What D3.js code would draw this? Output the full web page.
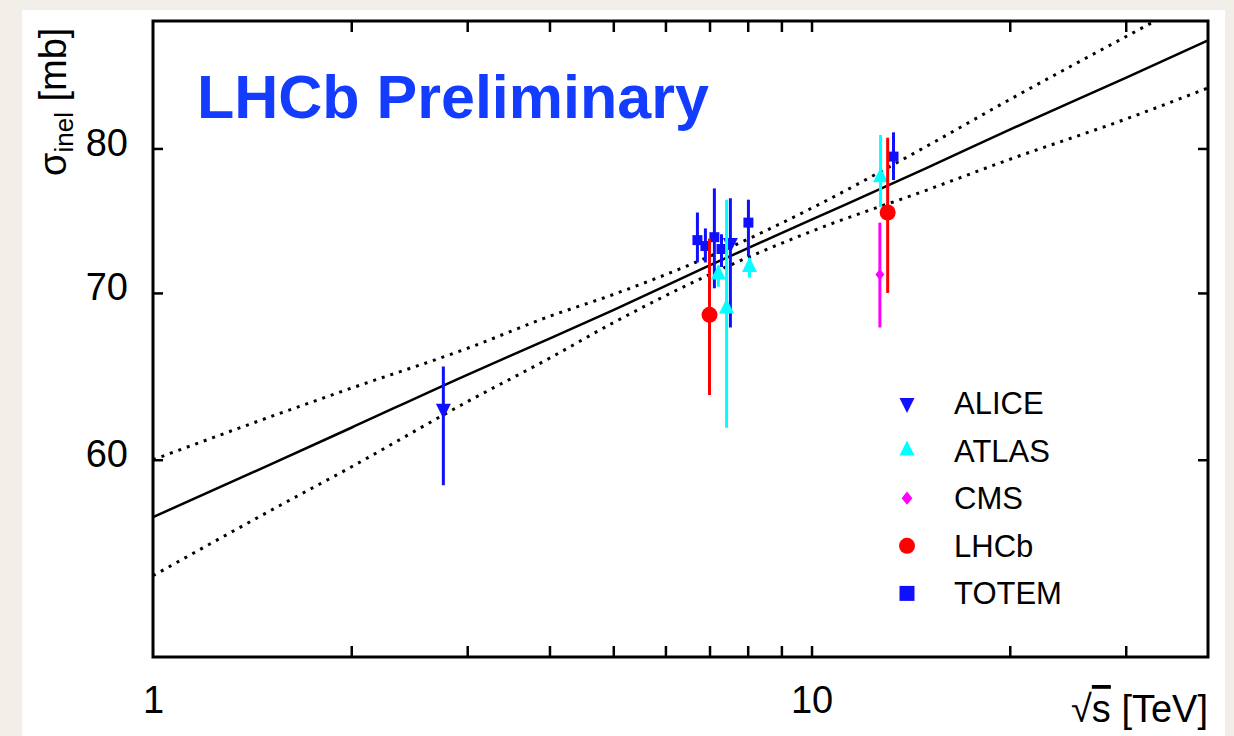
<!DOCTYPE html>
<html>
<head>
<meta charset="utf-8">
<script src="https://cdn.jsdelivr.net/npm/d3@7"></script>
<style>
  body { margin: 0; background: #f2efe9; }
  svg { display: block; }
  text { font-family: "Liberation Sans", Arial, sans-serif; }
</style>
</head>
<body>
<svg id="chart" width="1234" height="736"></svg>
<script>
// fit curve (central value and band)
const fitX     = [1, 1.5, 2, 3, 4, 5, 7, 10, 15, 20, 30, 40]
const fitMid   = [56.9, 59.7, 61.8, 64.9, 67.1, 68.9, 71.8, 74.9, 78.6, 81.4, 85.4, 88.4]
const fitUpper = [60.0, 62.4, 64.1, 66.5, 68.5, 69.9, 72.4, 75.7, 80.2, 83.7, 88.7, 92.4]
const fitLower = [53.9, 57.2, 59.6, 63.3, 65.9, 68.1, 71.2, 74.1, 77.0, 79.2, 82.2, 84.6]

// measurements: sqrt(s) (shifted for display), sigma, error bar low/high
const alice = [
  {x: 2.76, y: 62.9, lo: 58.6, hi: 65.4},
  {x: 7.53, y: 73.3, lo: 67.8, hi: 76.4}
]
const atlas = [
  {x: 7.22, y: 71.2, lo: 70.4, hi: 71.8},
  {x: 7.43, y: 69.0, lo: 61.8, hi: 76.3},
  {x: 8.05, y: 71.7, lo: 71.0, hi: 72.3},
  {x: 12.73, y: 77.9, lo: 75.8, hi: 81.0}
]
const cms = [
  {x: 12.7, y: 71.2, lo: 67.8, hi: 74.7}
]
const lhcb = [
  {x: 7.0, y: 68.6, lo: 63.7, hi: 73.6},
  {x: 13.05, y: 75.4, lo: 70.0, hi: 80.8}
]
const totem = [
  {x: 6.71, y: 73.5, lo: 72.0, hi: 75.4},
  {x: 6.90, y: 73.1, lo: 72.0, hi: 74.3},
  {x: 7.12, y: 73.7, lo: 70.3, hi: 77.1},
  {x: 7.30, y: 72.9, lo: 71.7, hi: 73.9},
  {x: 8.02, y: 74.7, lo: 72.4, hi: 76.3},
  {x: 13.32, y: 79.4, lo: 77.7, hi: 81.2}
]

const xTicks = [2, 3, 4, 5, 6, 7, 8, 9, 10, 20, 30]
const xLabels = [1, 10]
const yTicks = [60, 70, 80]

const legendNames = ["ALICE", "ATLAS", "CMS", "LHCb", "TOTEM"]

const svg = d3.select("#chart")
const W = 1234, H = 736
const mLeft = 153, mRight = 1208, mTop = 21, mBottom = 657

svg.append("rect").attr("width", W).attr("height", H).attr("fill", "#f2efe9")
svg.append("rect").attr("x", 22).attr("y", 10).attr("width", 1203).attr("height", H - 10).attr("fill", "#fff")

const x = d3.scaleLog().domain([1, 40]).range([mLeft, mRight])
const y = d3.scaleLog().domain([50, 90]).range([mBottom, mTop])

svg.append("clipPath").attr("id", "plotclip")
  .append("rect").attr("x", mLeft).attr("y", mTop).attr("width", mRight - mLeft).attr("height", mBottom - mTop)

// fit lines
const fitPts = (arr) => fitX.map((v, i) => [v, arr[i]])
const line = d3.line().x(d => x(d[0])).y(d => y(d[1])).curve(d3.curveMonotoneX)
const fits = svg.append("g").attr("clip-path", "url(#plotclip)")
fits.append("path").attr("d", line(fitPts(fitMid)))
  .attr("fill", "none").attr("stroke", "#000").attr("stroke-width", 2.5)
;[fitUpper, fitLower].forEach(arr => {
  fits.append("path").attr("d", line(fitPts(arr)))
    .attr("fill", "none").attr("stroke", "#000").attr("stroke-width", 3)
    .attr("stroke-dasharray", "3 6")
})

// marker shapes
const shapes = {
  down:    (s) => `M${-s/2},${-s/3}L${s/2},${-s/3}L0,${2*s/3}Z`,
  up:      (s) => `M${-s/2},${s/3}L${s/2},${s/3}L0,${-2*s/3}Z`,
  diamond: (s) => `M0,${-s*0.55}L${s*0.45},0L0,${s*0.55}L${-s*0.45},0Z`,
  circle:  (s) => d3.symbol(d3.symbolCircle, Math.PI * s * s / 4)(),
  square:  (s) => `M${-s/2},${-s/2}h${s}v${s}h${-s}Z`
}

const series = [
  {name: "TOTEM", data: totem, color: "#1010ff", shape: "square", size: 10, lsize: 15},
  {name: "ALICE", data: alice, color: "#1010ff", shape: "down", size: 15, lsize: 15},
  {name: "ATLAS", data: atlas, color: "#00ffff", shape: "up", size: 15, lsize: 15},
  {name: "CMS",   data: cms,   color: "#ff00ff", shape: "diamond", size: 10, lsize: 12},
  {name: "LHCb",  data: lhcb,  color: "#ff0000", shape: "circle", size: 16, lsize: 16}
]

series.forEach(s => {
  const g = svg.append("g")
  g.selectAll("line").data(s.data).join("line")
    .attr("x1", d => x(d.x)).attr("x2", d => x(d.x))
    .attr("y1", d => y(d.lo)).attr("y2", d => y(d.hi))
    .attr("stroke", s.color).attr("stroke-width", 3)
  g.selectAll("path").data(s.data).join("path")
    .attr("d", shapes[s.shape](s.size))
    .attr("transform", d => `translate(${x(d.x)},${y(d.y)})`)
    .attr("fill", s.color)
})

// axes
const tickStyle = g => {
  g.select(".domain").remove()
  g.selectAll(".tick line").attr("stroke", "#000").attr("stroke-width", 2.5)
}
svg.append("g").attr("transform", `translate(0,${mBottom})`)
  .call(d3.axisBottom(x).tickValues(xTicks).tickSize(-11).tickFormat(""))
  .call(tickStyle)
svg.append("g").attr("transform", `translate(0,${mTop})`)
  .call(d3.axisTop(x).tickValues(xTicks).tickSize(-11).tickFormat(""))
  .call(tickStyle)
svg.append("g").attr("transform", `translate(${mLeft},0)`)
  .call(d3.axisLeft(y).tickValues(yTicks).tickSize(-10).tickFormat(""))
  .call(tickStyle)
svg.append("g").attr("transform", `translate(${mRight},0)`)
  .call(d3.axisRight(y).tickValues(yTicks).tickSize(-10).tickFormat(""))
  .call(tickStyle)

// tick labels
const xl = svg.append("g").attr("transform", `translate(0,${mBottom})`)
  .call(d3.axisBottom(x).tickValues(xLabels).tickSize(0).tickPadding(29).tickFormat(d3.format("d")))
xl.select(".domain").remove()
xl.selectAll("text").attr("font-size", 38).attr("fill", "#000")
  .attr("font-family", "Liberation Sans, Arial, sans-serif")

const yl = svg.append("g").attr("transform", `translate(${mLeft},0)`)
  .call(d3.axisLeft(y).tickValues(yTicks).tickSize(0).tickPadding(25).tickFormat(d3.format("d")))
yl.select(".domain").remove()
yl.selectAll("text").attr("font-size", 38).attr("fill", "#000").attr("dy", "0.18em")
  .attr("font-family", "Liberation Sans, Arial, sans-serif")

// frame
svg.append("rect").attr("x", mLeft).attr("y", mTop)
  .attr("width", mRight - mLeft).attr("height", mBottom - mTop)
  .attr("fill", "none").attr("stroke", "#000").attr("stroke-width", 3)

// axis titles
const yt = svg.append("text").attr("transform", "translate(66,176) rotate(-90)")
  .attr("font-size", 38).attr("fill", "#000")
yt.append("tspan").text("σ")
yt.append("tspan").attr("font-size", 26).attr("dy", 7).text("inel")
yt.append("tspan").attr("dy", -7).text(" [mb]")

const xt = svg.append("text").attr("x", mRight).attr("y", 722)
  .attr("text-anchor", "end").attr("font-size", 38).attr("fill", "#000")
xt.append("tspan").text("√")
xt.append("tspan").style("text-decoration", "overline").text("s")
xt.append("tspan").text(" [TeV]")

// title
svg.append("text").attr("x", 197).attr("y", 118)
  .attr("font-size", 61).attr("font-weight", "bold").attr("fill", "#143cff")
  .text("LHCb Preliminary")

// legend
const legendOrder = legendNames.map(n => series.find(s => s.name === n))
const lg = svg.append("g").selectAll("g").data(legendOrder).join("g")
  .attr("transform", (d, i) => `translate(907,${403 + i * 47.6})`)
lg.append("path").attr("d", d => shapes[d.shape](d.lsize)).attr("fill", d => d.color)
lg.append("text").attr("x", 47).attr("y", 11).attr("font-size", 31).attr("fill", "#000")
  .text(d => d.name)
</script>
</body>
</html>
